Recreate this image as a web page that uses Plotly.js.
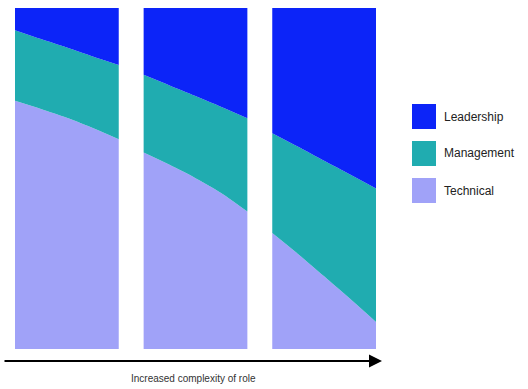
<!DOCTYPE html>
<html>
<head>
<meta charset="utf-8">
<script src="https://cdn.plot.ly/plotly-3.0.1.min.js"></script>
<style>html,body{margin:0;padding:0;background:#fff;}#chart{width:528px;height:389px;}</style>
</head>
<body>
<div id="chart"></div>
<script>
// ---- data ----
const seriesNames = ['Technical', 'Management', 'Leadership'];
const seriesColors = ['#a0a2f8', '#20acb0', '#0c24f8'];
// sample positions across each column (0 = left edge, 1 = right edge)
const positions = [0, 0.25, 0.5, 0.75, 1];
// share (%) of each skill at the sample positions, one row per column (role)
const technical  = [[72.8, 70.4, 67.8, 64.8, 61.5],
                    [57.6, 54.0, 50.1, 45.7, 40.3],
                    [34.0, 27.8, 21.3, 14.7, 7.9]];
const management = [[20.7, 20.5, 20.6, 21.0, 21.8],
                    [22.8, 23.3, 24.1, 25.3, 27.4],
                    [29.3, 31.5, 33.9, 36.5, 39.2]];
const leadership = [[6.5, 9.1, 11.6, 14.2, 16.7],
                    [19.6, 22.7, 25.8, 29.0, 32.3],
                    [36.7, 40.7, 44.8, 48.8, 52.9]];
const axisLabel = 'Increased complexity of role';

// ---- layout helpers ----
const W = 528, H = 389;
const L = 15, R = 376, T = 8, B = 349;
const colStep = 1.24;
const px = x => (x - L) / (R - L);
const py = y => (B - y) / (B - T);

const seriesValues = [technical, management, leadership];
const traces = [];
for (let c = 0; c < technical.length; c++) {
  const xs = positions.map(p => c * colStep + p);
  seriesNames.forEach((name, s) => {
    traces.push({
      type: 'scatter', mode: 'lines', name: name,
      x: xs, y: seriesValues[s][c],
      stackgroup: 'col' + c,
      fill: 'tonexty',
      fillcolor: seriesColors[s],
      line: {width: 0, shape: 'spline', smoothing: 0.8, color: seriesColors[s]},
      showlegend: false, hoverinfo: 'skip'
    });
  });
}

const shapes = [], annotations = [];
// legend (top to bottom: Leadership, Management, Technical)
const order = [2, 1, 0];
order.forEach((s, i) => {
  const top = 104 + i * 37;
  shapes.push({type: 'rect', xref: 'paper', yref: 'paper',
    x0: px(412), x1: px(436), y0: py(top + 25), y1: py(top),
    fillcolor: seriesColors[s], line: {width: 0}});
  annotations.push({xref: 'paper', yref: 'paper', x: px(442), y: py(top + 12.5),
    xanchor: 'left', yanchor: 'middle', showarrow: false, text: seriesNames[s],
    font: {family: 'Liberation Sans, Arial, sans-serif', size: 12, color: '#222'}});
});
// arrow
annotations.push({xref: 'paper', yref: 'paper', x: px(382), y: py(361),
  ax: -379, ay: 0, text: '', showarrow: true, arrowhead: 2, arrowsize: 1.3,
  arrowwidth: 2, arrowcolor: '#000', standoff: 0});
annotations.push({xref: 'paper', yref: 'paper', x: px(193.5), y: py(378),
  xanchor: 'center', yanchor: 'middle', showarrow: false, text: axisLabel,
  font: {family: 'Liberation Sans, Arial, sans-serif', size: 10, color: '#333'}});

const layout = {
  width: W, height: H,
  margin: {l: L, r: W - R, t: T, b: H - B, pad: 0},
  paper_bgcolor: '#fff', plot_bgcolor: '#fff',
  showlegend: false,
  xaxis: {range: [0, 2 * colStep + 1], visible: false, fixedrange: true},
  yaxis: {range: [0, 100], visible: false, fixedrange: true},
  shapes: shapes, annotations: annotations
};
Plotly.newPlot('chart', traces, layout, {staticPlot: true, displayModeBar: false});
</script>
</body>
</html>
